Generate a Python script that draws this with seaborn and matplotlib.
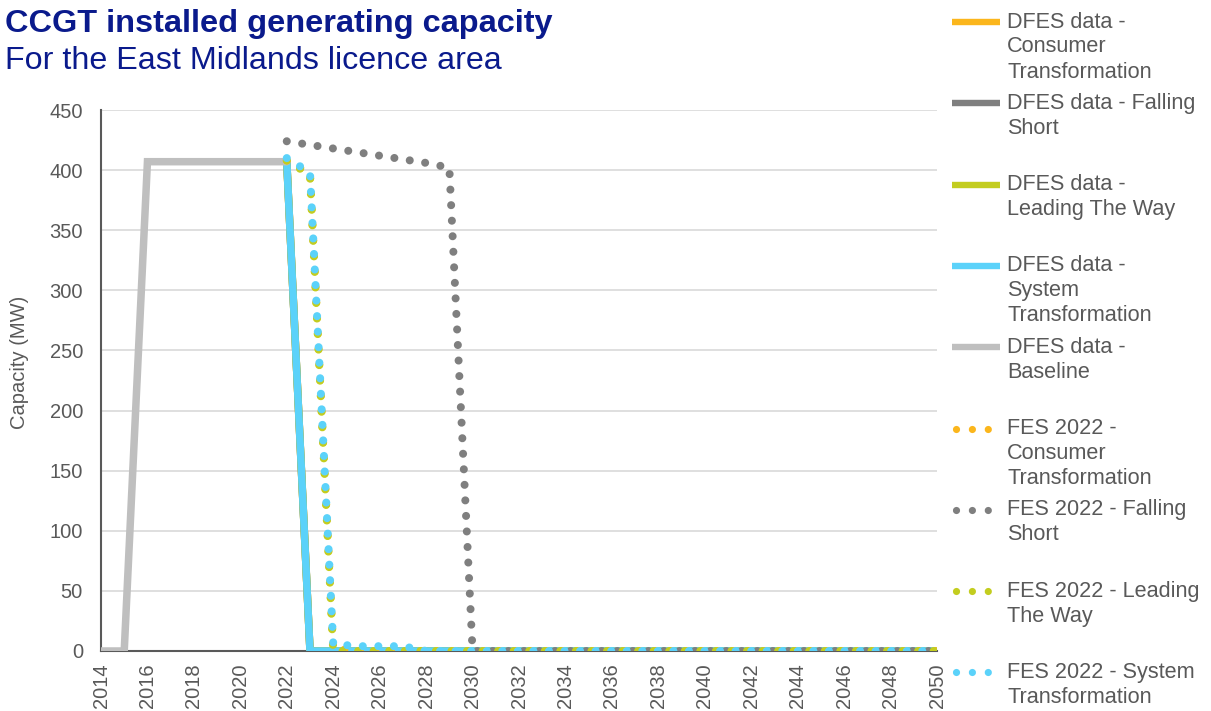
import seaborn as sns
import matplotlib.pyplot as plt
from matplotlib.lines import Line2D

# data (MW)
years_base = list(range(2014, 2023))
baseline = [0, 0, 407, 407, 407, 407, 407, 407, 407]

years_scn = list(range(2022, 2051))
dfes_ct = [407] + [0] * 28
dfes_fs = [407] + [0] * 28
dfes_ltw = [407] + [0] * 28
dfes_st = [407] + [0] * 28

fes_ct = [408, 397, 2] + [0] * 26
fes_fs = [424, 421, 418, 415, 412, 409, 406, 402] + [0] * 21
fes_ltw = [408, 396, 0] + [0] * 26
fes_st = [410, 398, 6, 4, 4, 4] + [0] * 23

x_ticks = list(range(2014, 2051, 2))
y_ticks = list(range(0, 451, 50))

ORANGE = "#FBB61C"
DGREY = "#7F7F7F"
LIME = "#C3CD1F"
BLUE = "#5BD2FA"
LGREY = "#BFBFBF"
TXT = "#595959"
NAVY = "#0A1A8C"

sns.set_style("white")
plt.rcParams["font.family"] = ["Liberation Sans", "DejaVu Sans"]

W, H = 1211, 711
fig = plt.figure(figsize=(W / 100, H / 100), dpi=100)
ax = fig.add_axes([101 / W, 1 - 651 / H, (937 - 101) / W, (651 - 110) / H])

LW = 5.4
DLW = 5.8
DOT = (0, (0.001, 1.93))

solid = [
    (years_scn, dfes_ct, ORANGE),
    (years_scn, dfes_fs, DGREY),
    (years_scn, dfes_ltw, LIME),
    (years_scn, dfes_st, BLUE),
    (years_base, baseline, LGREY),
]
for i, (xx, yy, c) in enumerate(solid):
    sns.lineplot(x=xx, y=yy, ax=ax, color=c, linewidth=LW,
                 solid_joinstyle="miter", zorder=3 + i)

dotted = [
    (fes_ct, ORANGE),
    (fes_fs, DGREY),
    (fes_ltw, LIME),
    (fes_st, BLUE),
]
for i, (yy, c) in enumerate(dotted):
    sns.lineplot(x=years_scn, y=yy, ax=ax, color=c, linewidth=DLW,
                 linestyle=DOT, dash_capstyle="round", zorder=10 + i)

ax.set_xlim(2014, 2050)
ax.set_ylim(0, 450)
ax.set_xticks(x_ticks)
ax.set_xticklabels([str(t) for t in x_ticks], rotation=90)
ax.set_yticks(y_ticks)
ax.tick_params(axis="both", length=0, labelsize=14.5, labelcolor=TXT)
ax.tick_params(axis="y", pad=13)
ax.tick_params(axis="x", pad=9)
ax.grid(axis="y", color="#D9D9D9", linewidth=1.2)
ax.grid(axis="x", visible=False)
for s in ["top", "right"]:
    ax.spines[s].set_visible(False)
for s in ["left", "bottom"]:
    ax.spines[s].set_color(TXT)
    ax.spines[s].set_linewidth(1.5)
    ax.spines[s].set_zorder(2)
ax.set_ylabel("Capacity (MW)", fontsize=14.5, color=TXT)
ax.yaxis.set_label_coords(-0.086, 0.534)
ax.set_xlabel("")

fig.text(5 / W, 1 - 24 / H, "CCGT installed generating capacity", fontsize=23.4,
         fontweight="bold", color=NAVY, va="center", ha="left")
fig.text(5 / W, 1 - 61 / H, "For the East Midlands licence area", fontsize=23.2,
         color=NAVY, va="center", ha="left")

# legend, drawn entry by entry
legend_items = [
    (["DFES data -", "Consumer", "Transformation"], ORANGE, "-"),
    (["DFES data - Falling", "Short"], DGREY, "-"),
    (["DFES data -", "Leading The Way"], LIME, "-"),
    (["DFES data -", "System", "Transformation"], BLUE, "-"),
    (["DFES data -", "Baseline"], LGREY, "-"),
    (["FES 2022 -", "Consumer", "Transformation"], ORANGE, ":"),
    (["FES 2022 - Falling", "Short"], DGREY, ":"),
    (["FES 2022 - Leading", "The Way"], LIME, ":"),
    (["FES 2022 - System", "Transformation"], BLUE, ":"),
]
for i, (lines, c, st) in enumerate(legend_items):
    y0 = 22 + 81.3 * i
    if st == "-":
        h = Line2D([952 / W, 1000 / W], [1 - y0 / H] * 2, color=c,
                   linewidth=4.6, solid_capstyle="butt", transform=fig.transFigure)
    else:
        h = Line2D([956 / W, 991 / W], [1 - y0 / H] * 2, color=c,
                   linewidth=5.2, linestyle=(0, (0.001, 2.2)),
                   dash_capstyle="round", transform=fig.transFigure)
    fig.add_artist(h)
    for j, t in enumerate(lines):
        fig.text(1007 / W, 1 - (y0 + 25 * j) / H, t, fontsize=15.6,
                 color=TXT, va="center", ha="left")

fig.savefig("out.png", dpi=100)
